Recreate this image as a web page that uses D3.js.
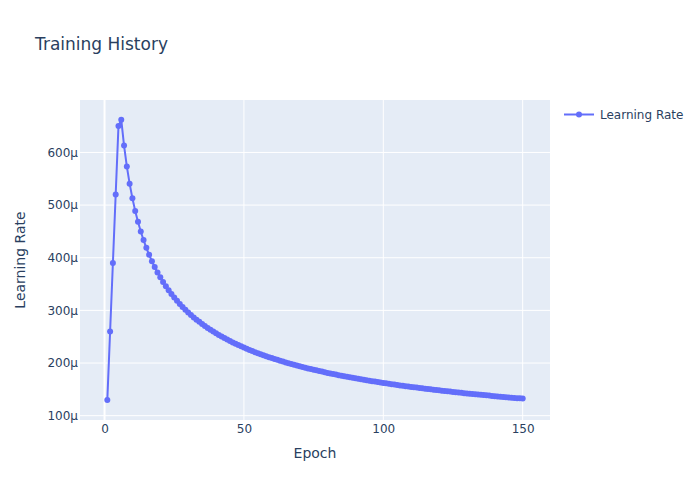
<!DOCTYPE html>
<html>
<head>
<meta charset="utf-8">
<script src="https://cdn.jsdelivr.net/npm/d3@7"></script>
<style>
  html, body { margin: 0; padding: 0; background: #fff; }
  svg { display: block; font-family: "DejaVu Sans", verdana, arial, sans-serif; }
</style>
</head>
<body>
<svg id="chart" width="700" height="500"></svg>
<script>
// ---- Data (learning rate in μ units, i.e. ×1e-6) ----
const epochs = d3.range(1, 151);
const learningRate = [
  130.0, 260.0, 390.0, 520.0, 650.0, 662.2, 613.1, 573.5, 540.7, 512.9,
  489.0, 468.2, 449.9, 433.5, 418.8, 405.5, 393.4, 382.3, 372.1, 362.7,
  353.9, 345.8, 338.2, 331.1, 324.4, 318.1, 312.2, 306.5, 301.2, 296.1,
  291.3, 286.7, 282.4, 278.2, 274.2, 270.3, 266.7, 263.1, 259.7, 256.5,
  253.3, 250.3, 247.4, 244.5, 241.8, 239.1, 236.6, 234.1, 231.7, 229.4,
  227.1, 224.9, 222.8, 220.7, 218.7, 216.7, 214.8, 213.0, 211.2, 209.4,
  207.7, 206.0, 204.4, 202.8, 201.2, 199.7, 198.2, 196.7, 195.3, 193.9,
  192.5, 191.2, 189.8, 188.6, 187.3, 186.1, 184.8, 183.7, 182.5, 181.3,
  180.2, 179.1, 178.0, 177.0, 175.9, 174.9, 173.9, 172.9, 171.9, 171.0,
  170.0, 169.1, 168.2, 167.3, 166.4, 165.5, 164.7, 163.8, 163.0, 162.2,
  161.4, 160.6, 159.8, 159.1, 158.3, 157.5, 156.8, 156.1, 155.4, 154.7,
  154.0, 153.3, 152.6, 151.9, 151.3, 150.6, 150.0, 149.3, 148.7, 148.1,
  147.5, 146.9, 146.3, 145.7, 145.1, 144.5, 143.9, 143.4, 142.8, 142.3,
  141.7, 141.2, 140.6, 140.1, 139.6, 139.1, 138.6, 138.1, 137.6, 137.1,
  136.6, 136.1, 135.6, 135.2, 134.7, 134.2, 133.8, 133.3, 132.9, 132.4
];
const xTicks = [0, 50, 100, 150];
const yTicks = [100, 200, 300, 400, 500, 600];
const seriesName = "Learning Rate";
const titleText = "Training History";
const xLabel = "Epoch";
const yLabel = "Learning Rate";

// ---- Layout ----
const plot = { left: 80, right: 550, top: 100, bottom: 420 };
const color = "#636efa";
const textColor = "#2a3f5f";
const font = '"DejaVu Sans", verdana, arial, sans-serif';

const svg = d3.select("#chart");

const x = d3.scaleLinear().domain([-8.8, 159.8]).range([plot.left, plot.right]);
const y = d3.scaleLinear().domain([91.8, 699.6]).range([plot.bottom, plot.top]);

// background
svg.append("rect")
  .attr("x", plot.left).attr("y", plot.top)
  .attr("width", plot.right - plot.left).attr("height", plot.bottom - plot.top)
  .attr("fill", "#e5ecf6");

// grid
const grid = svg.append("g");
grid.selectAll(".vg").data(xTicks).enter().append("line")
  .attr("x1", d => x(d)).attr("x2", d => x(d))
  .attr("y1", plot.top).attr("y2", plot.bottom)
  .attr("stroke", "#fff").attr("stroke-width", d => d === 0 ? 2 : 1);
grid.selectAll(".hg").data(yTicks).enter().append("line")
  .attr("x1", plot.left).attr("x2", plot.right)
  .attr("y1", d => y(d)).attr("y2", d => y(d))
  .attr("stroke", "#fff").attr("stroke-width", 1);

// axes (D3 axes, with domain lines and tick marks hidden)
const xAxis = d3.axisBottom(x).tickValues(xTicks).tickSize(0).tickPadding(4).tickFormat(d3.format("d"));
const gx = svg.append("g").attr("transform", `translate(0,${plot.bottom})`).call(xAxis);
const yAxis = d3.axisLeft(y).tickValues(yTicks).tickSize(0).tickPadding(2).tickFormat(d => d + "μ");
const gy = svg.append("g").attr("transform", `translate(${plot.left},0)`).call(yAxis);
[gx, gy].forEach(g => {
  g.select(".domain").remove();
  g.selectAll("text").attr("fill", textColor).attr("font-size", 12)
    .attr("font-family", font);
});

// line + markers
const data = epochs.map((e, i) => ({ e, v: learningRate[i] }));
const clipId = "clip";
svg.append("clipPath").attr("id", clipId).append("rect")
  .attr("x", plot.left).attr("y", plot.top)
  .attr("width", plot.right - plot.left).attr("height", plot.bottom - plot.top);

const series = svg.append("g").attr("clip-path", `url(#${clipId})`);
series.append("path").datum(data)
  .attr("fill", "none").attr("stroke", color).attr("stroke-width", 2)
  .attr("stroke-linejoin", "round")
  .attr("d", d3.line().x(d => x(d.e)).y(d => y(d.v)));
series.selectAll("circle").data(data).enter().append("circle")
  .attr("cx", d => x(d.e)).attr("cy", d => y(d.v)).attr("r", 3)
  .attr("fill", color);

// title
svg.append("text").attr("x", 35).attr("y", 50).attr("font-family", font)
  .attr("fill", textColor).attr("font-size", 17).text(titleText);

// axis titles
svg.append("text").attr("x", (plot.left + plot.right) / 2).attr("y", 458)
  .attr("font-family", font)
  .attr("text-anchor", "middle").attr("fill", textColor).attr("font-size", 14).text(xLabel);
svg.append("text")
  .attr("transform", `translate(25,${(plot.top + plot.bottom) / 2}) rotate(-90)`)
  .attr("font-family", font)
  .attr("text-anchor", "middle").attr("fill", textColor).attr("font-size", 14).text(yLabel);

// legend
const lg = svg.append("g").attr("transform", "translate(564,114.5)");
lg.append("line").attr("x1", 0).attr("x2", 30).attr("y1", 0).attr("y2", 0)
  .attr("stroke", color).attr("stroke-width", 2);
lg.append("circle").attr("cx", 15).attr("cy", 0).attr("r", 3).attr("fill", color);
lg.append("text").attr("x", 36).attr("y", 4.5).attr("fill", textColor)
  .attr("font-family", font)
  .attr("font-size", 12).text(seriesName);
</script>
</body>
</html>
